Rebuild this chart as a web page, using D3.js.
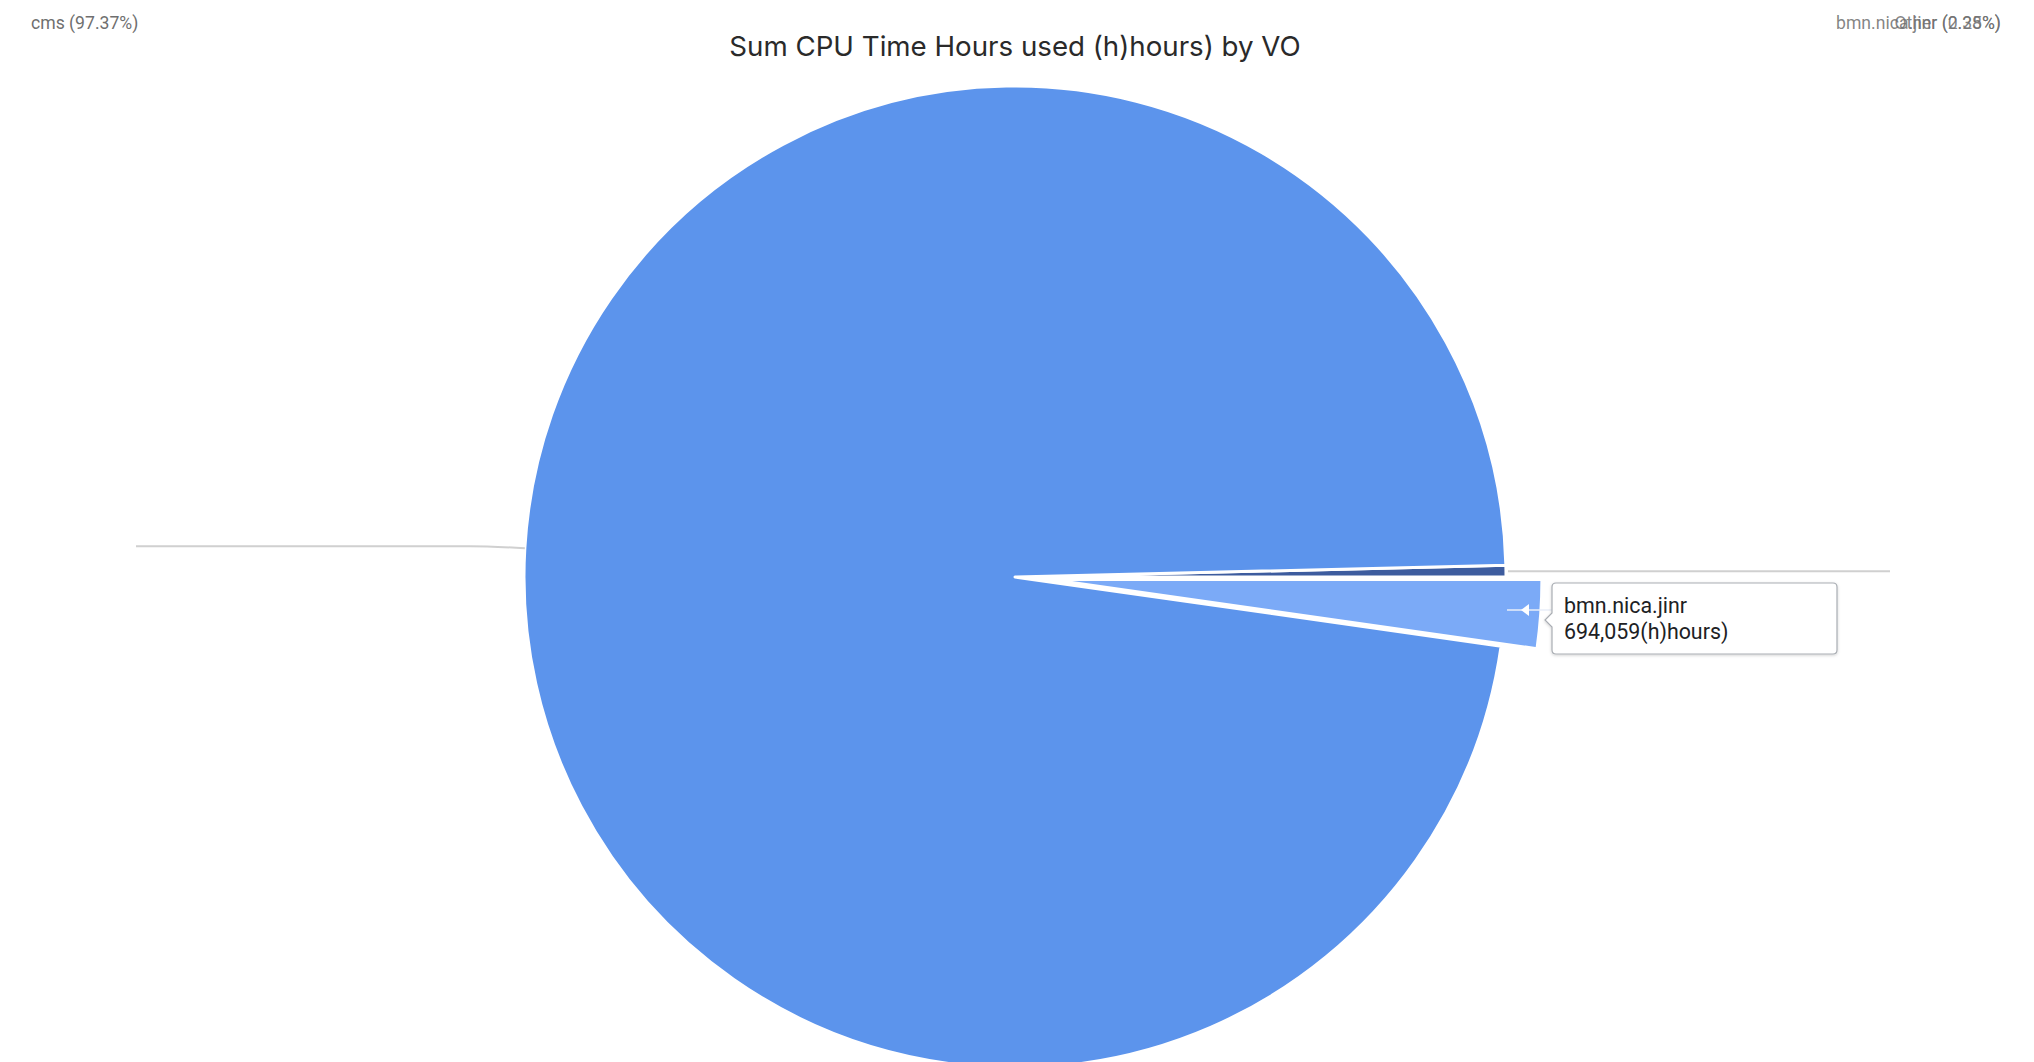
<!DOCTYPE html>
<html>
<head>
<meta charset="utf-8">
<script src="https://cdn.jsdelivr.net/npm/d3@7"></script>
<style>
  html, body { margin: 0; padding: 0; background: #fff; }
  svg { display: block; }
</style>
</head>
<body>
<svg id="chart" width="2034" height="1062"></svg>
<script>
// Virtual organisations and their summed CPU time (hours)
const categories = ["Other", "bmn.nica.jinr", "cms"];
const cpuHours = [117200, 694059, 30035800];
const sliceColors = ["#3d5c9e", "#7baaf7", "#5c94ec"];
const titleText = "Sum CPU Time Hours used (h)hours) by VO";
const unitSuffix = "(h)hours)";
const highlighted = "bmn.nica.jinr";

const W = 2034, H = 1062;
const cx = 1015, cy = 577, radius = 491;
const explode = 36;

const svg = d3.select("#chart");
const total = d3.sum(cpuHours);
const rows = categories.map((c, i) => ({ name: c, value: cpuHours[i], color: sliceColors[i] }));
const pct = v => (v / total * 100).toFixed(2) + "%";

// rotate so the Other / bmn.nica.jinr boundary sits at 3 o'clock
const startAngle = Math.PI / 2 - (cpuHours[0] / total) * 2 * Math.PI;
const pie = d3.pie().sort(null).value(d => d.value)
  .startAngle(startAngle).endAngle(startAngle + 2 * Math.PI);
const arcs = pie(rows);
const arc = d3.arc().innerRadius(0).outerRadius(radius);

// title
svg.append("text")
  .attr("x", cx).attr("y", 56)
  .attr("text-anchor", "middle")
  .attr("font-family", "Inter, 'Open Sans', sans-serif")
  .attr("font-size", 27.7)
  .attr("fill", "#2a2a2a")
  .text(titleText);

const g = svg.append("g").attr("transform", `translate(${cx},${cy})`);

// slices (the highlighted one pulled outward)
g.selectAll("path.slice").data(arcs).join("path")
  .attr("class", "slice")
  .attr("d", arc)
  .attr("fill", d => d.data.color)
  .attr("stroke", "#fff")
  .attr("stroke-width", 3)
  .attr("stroke-linejoin", "round")
  .attr("transform", d => {
    if (d.data.name !== highlighted) return null;
    const a = (d.startAngle + d.endAngle) / 2;
    return `translate(${explode * Math.sin(a)},${-explode * Math.cos(a)})`;
  });

// leader lines from slice mid-points
const edgePoint = d => {
  const a = (d.startAngle + d.endAngle) / 2;
  return [radius * Math.sin(a), -radius * Math.cos(a)];
};
const cmsArc = arcs.find(d => d.data.name === "cms");
const otherArc = arcs.find(d => d.data.name === "Other");
const pL = edgePoint(cmsArc);
const pR = edgePoint(otherArc);
const line = d3.line().curve(d3.curveMonotoneX);
g.append("path")
  .attr("d", line([[136 - cx, pL[1] - 2], [470 - cx, pL[1] - 2], [pL[0], pL[1]]]))
  .attr("fill", "none").attr("stroke", "#d0d0d0").attr("stroke-width", 2);
g.append("path")
  .attr("d", line([[pR[0] + 2, pR[1]], [1890 - cx, pR[1]]]))
  .attr("fill", "none").attr("stroke", "#d0d0d0").attr("stroke-width", 2);

// slice labels
const labelFont = "Roboto, 'Open Sans', sans-serif";
svg.append("text")
  .attr("x", 31).attr("y", 29)
  .attr("font-family", labelFont).attr("font-size", 17.6)
  .attr("fill", "#6f6f6f")
  .text(`${cmsArc.data.name} (${pct(cmsArc.data.value)})`);
arcs.filter(d => d.data.name !== "cms").forEach(d => {
  svg.append("text")
    .attr("x", 2001).attr("y", 29)
    .attr("text-anchor", "end")
    .attr("font-family", labelFont).attr("font-size", 17.6)
    .attr("fill", "#6f6f6f").attr("fill-opacity", 0.85)
    .text(`${d.data.name} (${pct(d.data.value)})`);
});

// hover marker on the highlighted slice
const hl = arcs.find(d => d.data.name === highlighted);
g.append("line")
  .attr("x1", 1507 - cx).attr("x2", 1552 - cx)
  .attr("y1", 610 - cy).attr("y2", 610 - cy)
  .attr("stroke", "#e8eef8").attr("stroke-width", 1.5);
g.append("path")
  .attr("d", `M${1521 - cx},${610 - cy} L${1529 - cx},${604 - cy} L${1529 - cx},${616 - cy} Z`)
  .attr("fill", "#fff");

// tooltip
const defs = svg.append("defs");
const f = defs.append("filter").attr("id", "shadow").attr("x", "-10%").attr("y", "-20%")
  .attr("width", "120%").attr("height", "150%");
f.append("feDropShadow").attr("dx", 0).attr("dy", 1).attr("stdDeviation", 1.5)
  .attr("flood-color", "#000").attr("flood-opacity", 0.18);

const tx = 1552, ty = 583, tw = 285, th = 71;
const tip = svg.append("g");
tip.append("path")
  .attr("d", `M${tx + 4},${ty} H${tx + tw - 4} Q${tx + tw},${ty} ${tx + tw},${ty + 4}
    V${ty + th - 4} Q${tx + tw},${ty + th} ${tx + tw - 4},${ty + th}
    H${tx + 4} Q${tx},${ty + th} ${tx},${ty + th - 4}
    V${ty + 44} L${tx - 7},${ty + 37} L${tx},${ty + 30} V${ty + 4} Q${tx},${ty} ${tx + 4},${ty} Z`)
  .attr("fill", "#fff")
  .attr("stroke", "#a9adb3").attr("stroke-width", 1.2)
  .attr("filter", "url(#shadow)");
tip.append("text")
  .attr("x", tx + 12).attr("y", ty + 30)
  .attr("font-family", labelFont).attr("font-size", 21.4)
  .attr("fill", "#202124")
  .text(hl.data.name);
tip.append("text")
  .attr("x", tx + 12).attr("y", ty + 56)
  .attr("font-family", labelFont).attr("font-size", 21.4)
  .attr("fill", "#202124")
  .text(d3.format(",")(hl.data.value) + unitSuffix);
</script>
</body>
</html>
